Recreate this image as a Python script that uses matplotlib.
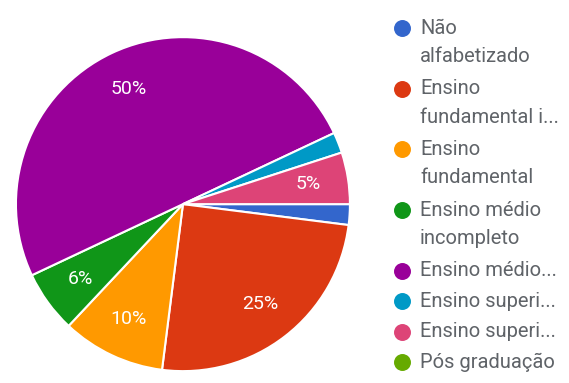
import matplotlib
matplotlib.use("Agg")
import matplotlib.pyplot as plt

plt.rcParams["font.family"] = ["Roboto", "DejaVu Sans"]

# Education level shares (%)
categories = [
    "Não alfabetizado",
    "Ensino fundamental incompleto",
    "Ensino fundamental",
    "Ensino médio incompleto",
    "Ensino médio",
    "Ensino superior incompleto",
    "Ensino superior",
    "Pós graduação",
]
legend_labels = [
    "Não\nalfabetizado",
    "Ensino\nfundamental i...",
    "Ensino\nfundamental",
    "Ensino médio\nincompleto",
    "Ensino médio...",
    "Ensino superi...",
    "Ensino superi...",
    "Pós graduação",
]
shares = [2, 25, 10, 6, 50, 2, 5, 0]
colors = ["#3366cc", "#dc3912", "#ff9900", "#109618",
          "#990099", "#0099c6", "#dd4477", "#66aa00"]

fig = plt.figure(figsize=(5.69, 3.83), dpi=100)
ax = fig.add_axes([0.028, 0.031, 0.587, 0.872])

drawn = [(v, c) for v, c in zip(shares, colors) if v > 0]
wedges, texts, autotexts = ax.pie(
    [v for v, _ in drawn],
    colors=[c for _, c in drawn],
    startangle=0,
    counterclock=False,
    autopct=lambda p: f"{p:.0f}%" if p >= 5 else "",
    pctdistance=0.76,
    wedgeprops=dict(edgecolor="white", linewidth=1.5),
    textprops=dict(color="white", fontsize=14),
)
ax.set_xlim(-1, 1)
ax.set_ylim(-1, 1)
ax.set_aspect("equal")

# legend drawn by hand on a pixel-space overlay
lg = fig.add_axes([0, 0, 1, 1], facecolor="none")
lg.set_xlim(0, 569)
lg.set_ylim(383, 0)
lg.axis("off")
y = 28
for label, color in zip(legend_labels, colors):
    lines = label.split("\n")
    lg.scatter([402], [y], s=125, color=color)
    for i, line in enumerate(lines):
        lg.text(420, y + 28.5 * i, line, color="#5f6368",
                fontsize=14.5, ha="left", va="center")
    y += 28.5 * (len(lines) - 1) + (32.2 if len(lines) > 1 else 30.5)

fig.savefig("out.png", dpi=100)
